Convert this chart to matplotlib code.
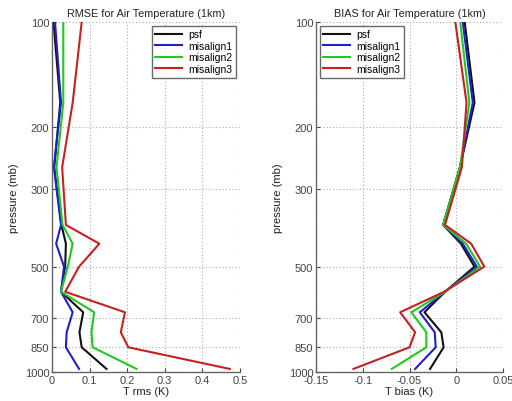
import matplotlib
matplotlib.use("Agg")
import matplotlib.pyplot as plt
from matplotlib.ticker import FixedLocator, NullLocator, FixedFormatter

plt.rcParams["font.family"] = ["Liberation Sans", "DejaVu Sans"]

# pressure levels (mb)
levels = [100, 170, 260, 380, 430, 500, 590, 675, 770, 850, 980]
series = ["psf", "misalign1", "misalign2", "misalign3"]
colors = ["#111111", "#2020c8", "#22c822", "#c82020"]

# RMSE (K)
rms_psf = [0.004, 0.022, 0.006, 0.025, 0.037, 0.035, 0.024, 0.083, 0.073, 0.079, 0.145]
rms_mis1 = [0.008, 0.024, 0.005, 0.024, 0.011, 0.032, 0.024, 0.055, 0.039, 0.037, 0.072]
rms_mis2 = [0.030, 0.030, 0.012, 0.028, 0.055, 0.042, 0.024, 0.112, 0.105, 0.108, 0.225]
rms_mis3 = [0.079, 0.055, 0.027, 0.037, 0.126, 0.072, 0.035, 0.194, 0.183, 0.203, 0.473]

# bias (K)
bias_psf = [0.009, 0.0195, 0.004, -0.014, 0.005, 0.0195, -0.012, -0.034, -0.016, -0.0135, -0.028]
bias_mis1 = [0.007, 0.0177, 0.004, -0.014, 0.007, 0.022, -0.012, -0.039, -0.023, -0.022, -0.044]
bias_mis2 = [0.0043, 0.014, 0.004, -0.014, 0.0106, 0.0255, -0.012, -0.048, -0.032, -0.032, -0.069]
bias_mis3 = [-0.001, 0.011, 0.006, -0.012, 0.016, 0.030, -0.013, -0.060, -0.044, -0.050, -0.110]

yticks = [100, 200, 300, 500, 700, 850, 1000]
rms_xticks = [0, 0.1, 0.2, 0.3, 0.4, 0.5]
rms_xlabels = ["0", "0.1", "0.2", "0.3", "0.4", "0.5"]
bias_xticks = [-0.15, -0.1, -0.05, 0, 0.05]
bias_xlabels = ["-0.15", "-0.1", "-0.05", "0", "0.05"]

fig = plt.figure(figsize=(5.12, 4.02), dpi=100)
ax1 = fig.add_axes([52 / 512, 29 / 402, 188 / 512, 350 / 402])
ax2 = fig.add_axes([316 / 512, 29 / 402, 187 / 512, 350 / 402])


def style(ax, xticks, xlabels, xlim, title, xlabel, legend_loc):
    ax.set_yscale("log")
    ax.set_ylim(1000, 100)
    ax.set_xlim(*xlim)
    ax.yaxis.set_major_locator(FixedLocator(yticks))
    ax.yaxis.set_major_formatter(FixedFormatter([str(t) for t in yticks]))
    ax.yaxis.set_minor_locator(NullLocator())
    ax.set_xticks(xticks)
    ax.set_xticklabels(xlabels)
    ax.grid(True, linestyle=(0, (1, 2)), color="#aaaaaa", linewidth=0.8)
    for s in ["top", "right"]:
        ax.spines[s].set_visible(False)
    for s in ["left", "bottom"]:
        ax.spines[s].set_color("#666666")
        ax.spines[s].set_linewidth(1.0)
    ax.tick_params(direction="in", length=3, labelsize=8, colors="#444444", pad=2)
    ax.set_title(title, fontsize=7.8, color="#222222", pad=4)
    ax.set_xlabel(xlabel, fontsize=8, color="#222222", labelpad=1)
    ax.set_ylabel("pressure (mb)", fontsize=8, color="#222222", labelpad=4)
    leg = ax.legend(loc=legend_loc, fontsize=7.5, frameon=True, fancybox=False,
                    handlelength=2.6, borderpad=0.35, labelspacing=0.15,
                    handletextpad=0.6, borderaxespad=0.35)
    leg.get_frame().set_edgecolor("#444444")
    leg.get_frame().set_linewidth(1.0)


for vals, name, c in zip([rms_psf, rms_mis1, rms_mis2, rms_mis3], series, colors):
    ax1.plot(vals, levels, color=c, linewidth=1.5, label=name)
style(ax1, rms_xticks, rms_xlabels, (0, 0.5), "RMSE for Air Temperature (1km)", "T rms (K)", "upper right")

for vals, name, c in zip([bias_psf, bias_mis1, bias_mis2, bias_mis3], series, colors):
    ax2.plot(vals, levels, color=c, linewidth=1.5, label=name)
style(ax2, bias_xticks, bias_xlabels, (-0.15, 0.05), "BIAS for Air Temperature (1km)", "T bias (K)", "upper left")

fig.savefig("out.png", dpi=100, facecolor="white")
